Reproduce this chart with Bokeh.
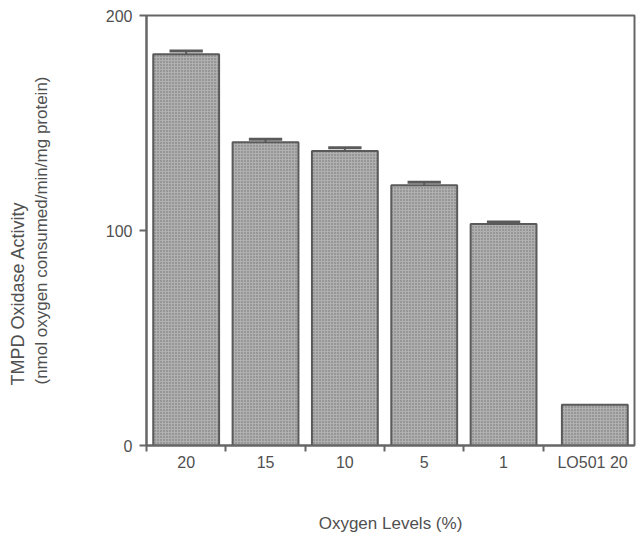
import numpy as np
from bokeh.plotting import figure
from bokeh.models import Range1d, FixedTicker, Title
from bokeh.embed import file_html
from bokeh.resources import INLINE

categories = ["20", "15", "10", "5", "1", "LO501  20"]
activity = [182, 141, 137, 121, 103, 19]
errors = [1.5, 1.5, 1.5, 1.5, 1.0, 0.0]
y_ticks = [0, 100, 200]
y_title_1 = "TMPD Oxidase Activity"
y_title_2 = "(nmol oxygen consumed/min/mg protein)"
x_title = "Oxygen Levels (%)"

n = len(categories)
xc = np.arange(n) + 0.5
xc[-1] += 0.15
bounds = list(np.arange(n) + 0.0)

p = figure(width=636, height=535, output_backend="svg", toolbar_location=None,
           x_range=Range1d(0, 6.15), y_range=Range1d(0, 200),
           min_border_left=146, min_border_right=2, min_border_top=15, min_border_bottom=88)
p.xgrid.visible = False
p.ygrid.visible = False
p.outline_line_color = "#666666"
p.outline_line_width = 2
p.background_fill_color = "white"
p.border_fill_color = "white"

ink = "#505050"
bar_line = "#5a5a5a"
font = "Liberation Sans"

p.vbar(x=xc, top=activity, width=0.83, bottom=0,
       fill_color="#b0b0b0", line_color=bar_line, line_width=2,
       hatch_pattern="dot", hatch_color="#707070", hatch_scale=3, hatch_weight=1)

act = np.array(activity, dtype=float)
err = np.array(errors, dtype=float)
mask = err > 0
p.segment(x0=xc[mask], y0=act[mask], x1=xc[mask], y1=act[mask] + err[mask],
          line_color=bar_line, line_width=2)
p.segment(x0=xc[mask] - 0.21, y0=act[mask] + err[mask], x1=xc[mask] + 0.21,
          y1=act[mask] + err[mask], line_color=bar_line, line_width=3)

xa = p.xaxis[0]
xa.ticker = FixedTicker(ticks=list(xc), minor_ticks=bounds)
xa.major_label_overrides = {float(x): c for x, c in zip(xc, categories)}
xa.major_tick_out = 0
xa.major_tick_in = 0
xa.minor_tick_out = 6
xa.minor_tick_in = 0
xa.minor_tick_line_color = "#666666"
xa.minor_tick_line_width = 2
xa.axis_line_color = "#666666"
xa.axis_line_width = 2
xa.major_label_text_font = font
xa.major_label_text_font_size = "16px"
xa.major_label_text_color = ink
xa.major_label_standoff = 2
xa.axis_label = x_title
xa.axis_label_text_font = font
xa.axis_label_text_font_style = "normal"
xa.axis_label_text_font_size = "17px"
xa.axis_label_text_color = ink
xa.axis_label_standoff = 40

ya = p.yaxis[0]
ya.ticker = FixedTicker(ticks=y_ticks, minor_ticks=[])
ya.major_tick_out = 7
ya.major_tick_in = 0
ya.major_tick_line_color = "#666666"
ya.major_tick_line_width = 2
ya.axis_line_color = "#666666"
ya.axis_line_width = 2
ya.major_label_text_font = font
ya.major_label_text_font_size = "16px"
ya.major_label_text_color = ink
ya.major_label_standoff = 7
ya.axis_label = y_title_2
ya.axis_label_text_font = font
ya.axis_label_text_font_style = "normal"
ya.axis_label_text_font_size = "17px"
ya.axis_label_text_color = ink
ya.axis_label_standoff = 52

# outer y-axis title line
p.add_layout(Title(text=y_title_1, align="left", offset=60, standoff=2,
                   text_font=font, text_font_size="18px",
                   text_font_style="normal", text_color=ink), "left")

open("out.html", "w").write(file_html(p, INLINE))
